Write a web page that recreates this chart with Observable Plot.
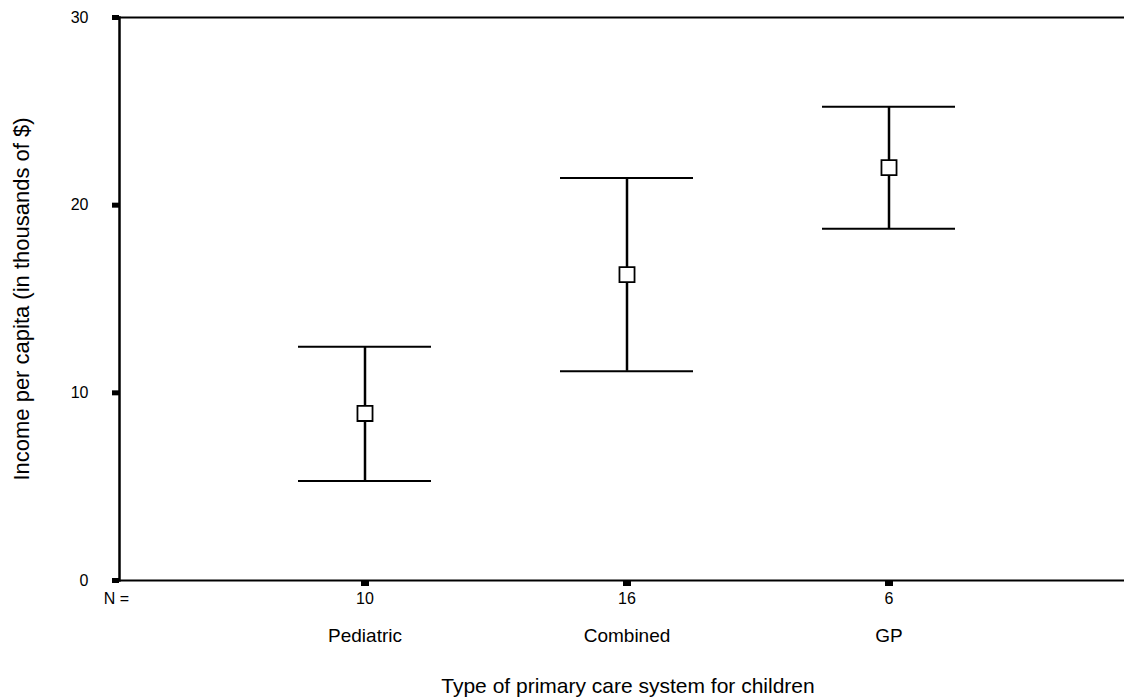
<!DOCTYPE html>
<html>
<head>
<meta charset="utf-8">
<script src="https://cdn.jsdelivr.net/npm/d3@7"></script>
<script src="https://cdn.jsdelivr.net/npm/@observablehq/plot@0.6"></script>
<style>
  html, body { margin: 0; padding: 0; background: white; }
</style>
</head>
<body>
<div id="chart"></div>
<script>
const categories = ["Pediatric", "Combined", "GP"];
const counts = [10, 16, 6];
const means = [8.9, 16.3, 22.0];
const lowers = [5.3, 11.15, 18.75];
const uppers = [12.45, 21.45, 25.25];
const yTicks = [0, 10, 20, 30];
const xTitle = "Type of primary care system for children";
const yTitle = "Income per capita (in thousands of $)";
const nLabel = "N =";

const data = categories.map((c, i) => ({
  category: c, n: counts[i], mean: means[i], lo: lowers[i], hi: uppers[i]
}));

const font = "'Liberation Sans', Arial, Helvetica, sans-serif";

const chart = Plot.plot({
  width: 1124,
  height: 699,
  marginLeft: 119,
  marginRight: 0,
  marginTop: 17,
  marginBottom: 119,
  style: { fontFamily: font, background: "white", color: "black" },
  x: { type: "band", domain: categories, paddingInner: 0.493, paddingOuter: 0.661, align: 0.515 },
  y: { domain: [0, 30] },
  marks: [
    Plot.ruleY([0, 30], { stroke: "black", strokeWidth: 2 }),
    Plot.frame({ anchor: "left", stroke: "black", strokeWidth: 2.5 }),
    Plot.axisY({ ticks: yTicks, tickSize: 7, strokeWidth: 5, tickPadding: 24, fontSize: 16, label: null }),
    Plot.axisX({ tickSize: 6, strokeWidth: 8, tickFormat: () => "", label: null }),
    Plot.ruleX(data, { x: "category", y1: "lo", y2: "hi", stroke: "black", strokeWidth: 2.5 }),
    Plot.tickY(data, { x: "category", y: "hi", stroke: "black", strokeWidth: 2 }),
    Plot.tickY(data, { x: "category", y: "lo", stroke: "black", strokeWidth: 2 }),
    Plot.dot(data, { x: "category", y: "mean", symbol: "square", r: 8.5, stroke: "black", fill: "white", strokeWidth: 1.8 }),
    Plot.text(data, { x: "category", text: d => String(d.n), frameAnchor: "bottom", dy: 23, fontSize: 16, fill: "black" }),
    Plot.text(data, { x: "category", text: "category", frameAnchor: "bottom", dy: 61, fontSize: 19, fill: "black" }),
    Plot.text([nLabel], { text: d => d, frameAnchor: "bottom-left", textAnchor: "middle", dx: -3, dy: 23, fontSize: 16, fill: "black" }),
    Plot.text([xTitle], { text: d => d, frameAnchor: "bottom", textAnchor: "middle", dx: 6, dy: 112, fontSize: 21, fill: "black" }),
    Plot.text([yTitle], { text: d => d, frameAnchor: "left", textAnchor: "middle", rotate: -90, dx: -98, fontSize: 22, fill: "black" })
  ]
});

document.getElementById("chart").appendChild(chart);
</script>
</body>
</html>
